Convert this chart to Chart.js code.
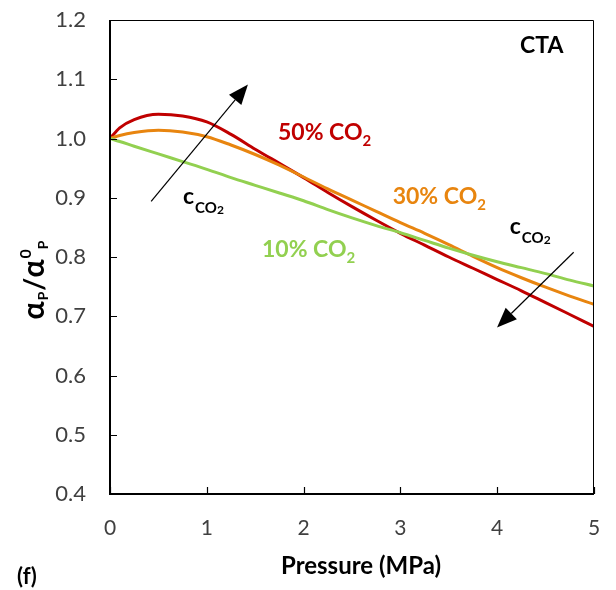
<!DOCTYPE html>
<html lang="en">
<head>
  <meta charset="UTF-8">
  <title>Relative permeability vs pressure - CTA</title>
  <script src="https://cdn.jsdelivr.net/npm/chart.js@4.4.0/dist/chart.umd.min.js"></script>
  <style>
    html, body { margin: 0; padding: 0; background: #fff; }
    #wrap { width: 616px; height: 590px; }
  </style>
</head>
<body>
  <div id="wrap"><canvas id="chart" width="616" height="590"></canvas></div>
  <script>
    // pressure (MPa) and alpha_P / alpha0_P
    const pressure = [0, 0.1, 0.25, 0.5, 0.75, 1, 1.25, 1.5, 1.75, 2, 2.25, 2.5, 2.75, 3, 3.25, 3.5, 3.75, 4, 4.25, 4.5, 4.75, 5];
    const co2_50 = [1.000, 1.018, 1.032, 1.041, 1.038, 1.028, 1.007, 0.982, 0.958, 0.934, 0.909, 0.885, 0.862, 0.840, 0.820, 0.800, 0.781, 0.762, 0.743, 0.723, 0.703, 0.683];
    const co2_30 = [1.000, 1.005, 1.010, 1.014, 1.011, 1.003, 0.989, 0.973, 0.955, 0.935, 0.915, 0.896, 0.877, 0.858, 0.840, 0.821, 0.801, 0.782, 0.765, 0.749, 0.734, 0.720];
    const co2_10 = [1.000, 0.995, 0.987, 0.974, 0.961, 0.948, 0.934, 0.921, 0.908, 0.895, 0.880, 0.866, 0.853, 0.841, 0.828, 0.815, 0.803, 0.792, 0.782, 0.772, 0.761, 0.751];
    const seriesNames = ['10% CO2', '30% CO2', '50% CO2'];
    const yTicks = [0.4, 0.5, 0.6, 0.7, 0.8, 0.9, 1.0, 1.1, 1.2];
    const xTicks = [0, 1, 2, 3, 4, 5];

    const FONT = 'Lato, "Open Sans", sans-serif';
    const RED = '#C00000', ORANGE = '#E8850F', GREEN = '#92D050';

    const pts = arr => pressure.map((p, i) => ({ x: p, y: arr[i] }));

    // draws text pieces one after another (for sub/superscripts)
    function drawRuns(ctx, x, y, runs, color, align) {
      ctx.save();
      ctx.fillStyle = color;
      ctx.textBaseline = 'alphabetic';
      ctx.textAlign = 'left';
      let w = 0;
      runs.forEach(r => {
        ctx.font = 'bold ' + r.size + 'px ' + FONT;
        w += ctx.measureText(r.t).width + (r.dx || 0);
      });
      let cx = align === 'center' ? x - w / 2 : x;
      runs.forEach(r => {
        ctx.font = 'bold ' + r.size + 'px ' + FONT;
        cx += (r.dx || 0);
        ctx.fillText(r.t, cx, y + (r.dy || 0));
        cx += ctx.measureText(r.t).width;
      });
      ctx.restore();
    }

    function co2Runs(label) {
      const [pct] = label.split(' ');
      return [{ t: pct + ' CO', size: 23 }, { t: '2', size: 15, dy: 6 }];
    }
    const cRuns = [{ t: 'c', size: 23 }, { t: 'CO', size: 15, dy: 9, dx: 1 }, { t: '2', size: 12, dy: 10 }];

    function arrow(ctx, x1, y1, x2, y2) {
      const a = Math.atan2(y2 - y1, x2 - x1);
      const hl = 20, hw = 8;
      ctx.save();
      ctx.strokeStyle = '#000';
      ctx.fillStyle = '#000';
      ctx.lineWidth = 1.2;
      ctx.beginPath();
      ctx.moveTo(x1, y1);
      ctx.lineTo(x2 - hl * Math.cos(a), y2 - hl * Math.sin(a));
      ctx.stroke();
      ctx.beginPath();
      ctx.moveTo(x2, y2);
      ctx.lineTo(x2 - hl * Math.cos(a) + hw * Math.sin(a), y2 - hl * Math.sin(a) - hw * Math.cos(a));
      ctx.lineTo(x2 - hl * Math.cos(a) - hw * Math.sin(a), y2 - hl * Math.sin(a) + hw * Math.cos(a));
      ctx.closePath();
      ctx.fill();
      ctx.restore();
    }

    const decor = {
      id: 'decor',
      afterDraw(chart) {
        const { ctx, chartArea: ca, scales: { x, y } } = chart;
        ctx.save();
        // frame: thick left/bottom, thin top/right
        ctx.strokeStyle = '#000';
        ctx.lineWidth = 1;
        ctx.beginPath();
        ctx.moveTo(ca.left, ca.top + 0.5);
        ctx.lineTo(ca.right - 0.5, ca.top + 0.5);
        ctx.lineTo(ca.right - 0.5, ca.bottom);
        ctx.stroke();
        ctx.lineWidth = 2;
        ctx.beginPath();
        ctx.moveTo(ca.left, ca.top);
        ctx.lineTo(ca.left, ca.bottom);
        ctx.lineTo(ca.right, ca.bottom);
        ctx.stroke();
        // inward ticks
        ctx.lineWidth = 1.2;
        ctx.beginPath();
        yTicks.forEach(v => {
          const py = Math.round(y.getPixelForValue(v)) + 0.5;
          ctx.moveTo(ca.left, py); ctx.lineTo(ca.left + 7, py);
        });
        xTicks.forEach(v => {
          const px = Math.round(x.getPixelForValue(v)) + 0.5;
          ctx.moveTo(px, ca.bottom); ctx.lineTo(px, ca.bottom - 7);
        });
        ctx.stroke();
        ctx.restore();

        // series labels
        drawRuns(ctx, x.getPixelForValue(1.735), y.getPixelForValue(0.998), co2Runs(seriesNames[2]), RED);
        drawRuns(ctx, x.getPixelForValue(2.92), y.getPixelForValue(0.889), co2Runs(seriesNames[1]), ORANGE);
        drawRuns(ctx, x.getPixelForValue(1.57), y.getPixelForValue(0.800), co2Runs(seriesNames[0]), GREEN);

        // concentration arrows
        drawRuns(ctx, x.getPixelForValue(0.754), y.getPixelForValue(0.890), cRuns, '#000');
        drawRuns(ctx, x.getPixelForValue(4.13), y.getPixelForValue(0.838), cRuns, '#000');
        arrow(ctx, x.getPixelForValue(0.425), y.getPixelForValue(0.894), x.getPixelForValue(1.425), y.getPixelForValue(1.091));
        arrow(ctx, x.getPixelForValue(4.79), y.getPixelForValue(0.808), x.getPixelForValue(3.998), y.getPixelForValue(0.681));

        // panel text
        drawRuns(ctx, x.getPixelForValue(4.236), y.getPixelForValue(1.1435), [{ t: 'CTA', size: 23 }], '#000');
        drawRuns(ctx, 17, 584, [{ t: '(f)', size: 22 }], '#000');
        drawRuns(ctx, 361, 574, [{ t: 'Pressure (MPa)', size: 24 }], '#000', 'center');

        // y title, rotated
        ctx.save();
        ctx.translate(44, 280);
        ctx.rotate(-Math.PI / 2);
        drawRuns(ctx, 0, 0, [
          { t: 'α', size: 30 }, { t: 'P', size: 14, dy: 4, dx: 1 },
          { t: '/', size: 28, dx: 1 },
          { t: 'α', size: 30 }, { t: '0', size: 16, dy: -13, dx: 1 }, { t: 'P', size: 14, dy: 4, dx: 0 }
        ], '#000', 'center');
        ctx.restore();
      }
    };

    const ds = (label, arr, color) => ({
      label, data: pts(arr), borderColor: color, backgroundColor: color,
      borderWidth: 3, pointRadius: 0, cubicInterpolationMode: 'monotone', fill: false
    });

    new Chart(document.getElementById('chart').getContext('2d'), {
      type: 'line',
      data: {
        datasets: [
          ds(seriesNames[0], co2_10, GREEN),
          ds(seriesNames[1], co2_30, ORANGE),
          ds(seriesNames[2], co2_50, RED)
        ]
      },
      options: {
        responsive: false,
        animation: false,
        layout: { padding: { top: 20, right: 22, left: 0, bottom: 0 } },
        plugins: { legend: { display: false }, tooltip: { enabled: false } },
        scales: {
          x: {
            type: 'linear', min: 0, max: 5,
            afterBuildTicks: s => { s.ticks = xTicks.map(v => ({ value: v })); },
            afterFit: s => { s.height = 96; s.paddingLeft = 0; s.paddingRight = 0; },
            grid: { display: false, drawTicks: false },
            border: { display: false },
            ticks: { padding: 22, color: '#404040', font: { family: FONT, size: 21 }, maxRotation: 0 }
          },
          y: {
            min: 0.4, max: 1.2,
            afterBuildTicks: s => { s.ticks = yTicks.map(v => ({ value: v })); },
            afterFit: s => { s.width = 110; s.paddingTop = 0; s.paddingBottom = 0; },
            grid: { display: false, drawTicks: false },
            border: { display: false },
            ticks: { padding: 24, color: '#404040', font: { family: FONT, size: 22 }, callback: v => v.toFixed(1) }
          }
        }
      },
      plugins: [decor]
    });
  </script>
</body>
</html>
